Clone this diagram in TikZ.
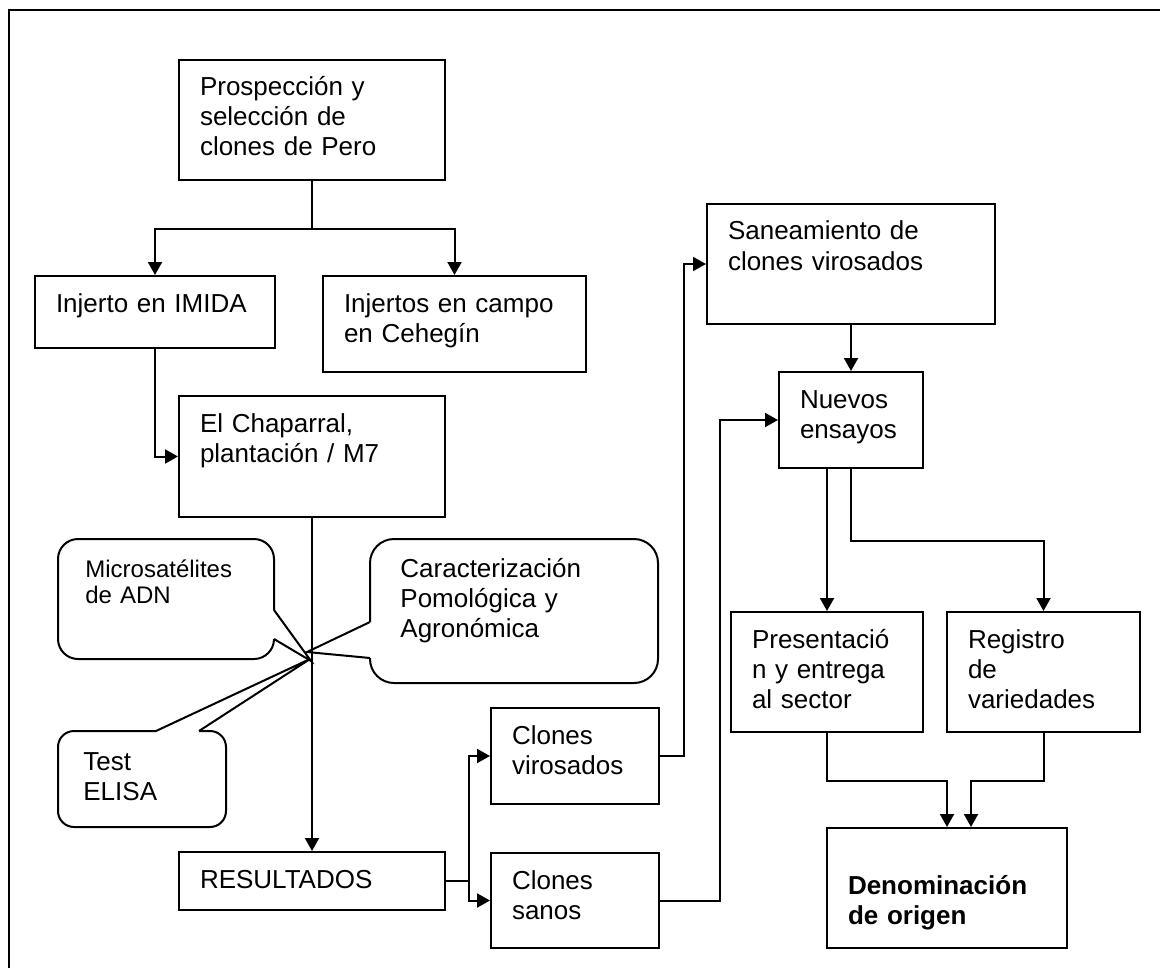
\documentclass[tikz,border=0pt]{standalone}
\usepackage{fontspec}
\setmainfont{Liberation Sans}
\usetikzlibrary{arrows.meta,positioning}

\begin{document}
\begin{tikzpicture}[x=0.5pt,y=-0.5pt,>={Triangle[length=6.5pt,width=7pt]}]
	\tikzset{box/.style 2 args={draw,line width=1pt,anchor=north west,align=left,
			inner xsep=10.5pt,inner ysep=0pt,text width=#1*0.5pt-21pt,
			text height=18pt,text depth=#2*0.5pt-18pt,
			font=\fontsize{13}{15}\selectfont},
		note/.style={anchor=base west,align=left,inner sep=0pt,text width=130pt,
			font=\fontsize{13}{15}\selectfont},
		link/.style={line width=1pt},
		bubble/.style={line width=1pt,rounded corners=#1}}
	\useasboundingbox (0,0) rectangle (1160,968);

	%% frame
	\draw[line width=1.1pt] (9,968) -- (9,10) -- (1160,10);

	%% boxes
	\node[box={266}{120}] (pros) at (178,59) {Prospección y\\selección de\\clones de Pero};
	\node[box={240}{72}] (imida) at (34,275) {Injerto en IMIDA};
	\node[box={263}{96}] (campo) at (322,275) {Injertos en campo\\en Cehegín};
	\node[box={266}{121}] (chap) at (178,395) {El Chaparral,\\plantación / M7};
	\node[box={266}{58}] (res) at (178,851) {RESULTADOS};
	\node[box={168}{96}] (viro) at (490,707) {Clones\\virosados};
	\node[box={168}{95}] (sanos) at (490,852) {Clones\\sanos};
	\node[box={288}{120}] (san) at (706,203) {Saneamiento de\\clones virosados};
	\node[box={144}{96}] (nuevos) at (778,371) {Nuevos\\ensayos};
	\node[box={192}{120}] (pres) at (730,611) {Presentació\\n y entrega\\al sector};
	\node[box={193}{120}] (reg) at (946,611) {Registro\\de\\variedades};
	\node[box={240}{120}] (deno) at (826,827) {\mbox{}\\\textbf{Denominación}\\\textbf{de origen}};

	%% callouts
	\coordinate (mtip) at (311,661);
	\coordinate (ctip) at (307,652);
	\coordinate (etip) at (310,659);
	\draw[bubble=10pt] (274,610) -- (274,539) -- (58,539) -- (58,659) -- (274,659) -- (274,639);
	\draw[link] (274,610) -- (mtip) -- (274,639);
	\draw[bubble=12pt] (370,622) -- (370,539) -- (658,539) -- (658,683) -- (370,683) -- (370,658);
	\draw[link] (370,622) -- (ctip) -- (370,658);
	\draw[bubble=8pt] (199,731) -- (226,731) -- (226,827) -- (58,827) -- (58,731) -- (156,731);
	\draw[link] (156,731) -- (etip) -- (199,731);
	\node[note,font=\fontsize{12}{13}\selectfont] (micro) at (85,577) {Microsatélites\\de ADN};
	\node[note] (carac) at (400,577) {Caracterización\\Pomológica y\\Agronómica};
	\node[note] (elisa) at (83,770) {Test\\ELISA};

	%% links
	\draw[link,->] (pros.south) -- ++(0,48) -| (imida);
	\draw[link,->] (pros.south) -- ++(0,48) -| (campo);
	\draw[link,->] (imida) |- (chap);
	\draw[link,->] (chap) -- (res);
	\draw[link,->] (res.east) -- ++(23,0) |- (viro);
	\draw[link,->] (res.east) -- ++(23,0) |- (sanos);
	\draw[link,->] (viro.east) -- ++(24,0) |- (san);
	\draw[link,->] (sanos.east) -- ++(60,0) |- (nuevos);
	\draw[link,->] (san) -- (nuevos);
	\draw[link,->] (nuevos.south -| pres.north) -- (pres.north);
	\draw[link,->] (nuevos.south) -- ++(0,72) -| (reg);
	\draw[link,->] (pres.south) -- ++(0,48) -| (deno.north);
	\draw[link,->] (reg.south) -- ++(0,48) -| ([xshift=12pt]deno.north);
\end{tikzpicture}
\end{document}
